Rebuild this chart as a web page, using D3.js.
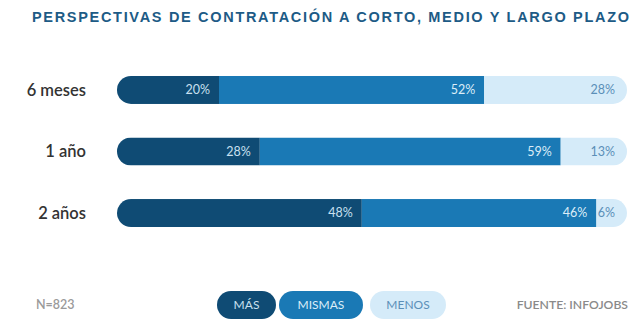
<!DOCTYPE html>
<html>
<head>
<meta charset="utf-8">
<script src="https://cdn.jsdelivr.net/npm/d3@7"></script>
<style>
	body { margin: 0; background: #ffffff; }
	svg { display: block; }
</style>
</head>
<body>
<div id="chart"></div>
<script>
// hiring outlook by horizon, shares of respondents
var periods = ["6 meses", "1 año", "2 años"];
var mas    = [20, 28, 48];
var mismas = [52, 59, 46];
var menos  = [28, 13, 6];
var seriesNames = ["MÁS", "MISMAS", "MENOS"];

var W = 638, H = 326;
var colors = ["#0f4b74", "#1a79b5", "#d5ebf9"];
var textColors = ["#c9e0f0", "#dcedf8", "#5b8fb8"];

var svg = d3.select("#chart").append("svg")
	.attr("width", W).attr("height", H);

svg.append("text")
	.attr("x", 32).attr("y", 22)
	.attr("textLength", 597).attr("lengthAdjust", "spacing")
	.style("font-family", "'Liberation Sans', Arial, sans-serif")
	.style("font-weight", "bold")
	.style("font-size", "14.5px")
	.style("fill", "#1d5b86")
	.text("PERSPECTIVAS DE CONTRATACIÓN A CORTO, MEDIO Y LARGO PLAZO");

var x = d3.scaleLinear().domain([0, 100]).range([117, 627]);
var y = d3.scaleBand().domain(periods).range([57.5, 245.5]).paddingInner(0.545).paddingOuter(0.3);

var rows = periods.map(function(p, i){
	var vals = [mas[i], mismas[i], menos[i]];
	var acc = 0;
	var segs = vals.map(function(v, k){
		var s = {k: k, x0: acc, x1: acc + v, v: v};
		acc += v;
		return s;
	});
	return {period: p, segs: segs};
});

var defs = svg.append("defs");
var bh = y.bandwidth();

rows.forEach(function(r, i){
	defs.append("clipPath").attr("id", "clip" + i)
		.append("rect")
		.attr("x", x(0)).attr("y", y(r.period))
		.attr("width", x(100) - x(0)).attr("height", bh)
		.attr("rx", bh / 2).attr("ry", bh / 2);
});

var g = svg.selectAll(".row").data(rows).enter().append("g").attr("class", "row");

g.append("text")
	.attr("x", 86)
	.attr("y", function(d){ return y(d.period) + bh / 2; })
	.attr("dy", "0.35em")
	.attr("text-anchor", "end")
	.style("font-family", "Lato, 'Open Sans', sans-serif")
	.style("font-weight", "600")
	.style("font-size", "16.5px")
	.style("fill", "#333333")
	.text(function(d){ return d.period; });

var bars = g.append("g").attr("clip-path", function(d, i){ return "url(#clip" + i + ")"; });

bars.selectAll("rect").data(function(d){
		return d.segs.map(function(s){ s.period = d.period; return s; });
	}).enter().append("rect")
	.attr("x", function(s){ return x(s.x0); })
	.attr("y", function(s){ return y(s.period); })
	.attr("width", function(s){ return x(s.x1) - x(s.x0); })
	.attr("height", bh)
	.attr("fill", function(s){ return colors[s.k]; });

g.selectAll(".val").data(function(d){
		return d.segs.map(function(s){ s.period = d.period; return s; });
	}).enter().append("text")
	.attr("class", "val")
	.attr("x", function(s){ return x(s.x1) - (s.k == 2 ? 12 : 9); })
	.attr("y", function(s){ return y(s.period) + bh / 2; })
	.attr("dy", "0.35em")
	.attr("text-anchor", "end")
	.style("font-family", "Lato, 'Open Sans', sans-serif")
	.style("font-size", "12.5px")
	.style("fill", function(s){ return textColors[s.k]; })
	.text(function(s){ return s.v + "%"; });

// footer: sample size, legend pills, source
var footY = 305;

svg.append("text")
	.attr("x", 36).attr("y", footY).attr("dy", "0.35em")
	.style("font-family", "Lato, 'Open Sans', sans-serif")
	.style("font-weight", "600")
	.style("font-size", "12.5px")
	.style("fill", "#9a9a9a")
	.text("N=823");

svg.append("text")
	.attr("x", 628).attr("y", footY).attr("dy", "0.35em")
	.attr("text-anchor", "end")
	.style("font-family", "Lato, 'Open Sans', sans-serif")
	.style("font-weight", "600")
	.style("font-size", "12.2px")
	.style("fill", "#8a8a8a")
	.text("FUENTE: INFOJOBS");

var pillX = [217, 279, 370];
var pillW = [59, 84, 76];
var legend = svg.selectAll(".pill").data(seriesNames).enter().append("g").attr("class", "pill");

legend.append("rect")
	.attr("x", function(d, i){ return pillX[i]; })
	.attr("y", footY - 14)
	.attr("width", function(d, i){ return pillW[i]; })
	.attr("height", 28)
	.attr("rx", 14).attr("ry", 14)
	.attr("fill", function(d, i){ return colors[i]; });

legend.append("text")
	.attr("x", function(d, i){ return pillX[i] + pillW[i] / 2; })
	.attr("y", footY).attr("dy", "0.35em")
	.attr("text-anchor", "middle")
	.style("font-family", "Lato, 'Open Sans', sans-serif")
	.style("font-size", "12px")
	.style("fill", function(d, i){ return textColors[i]; })
	.text(function(d){ return d; });
</script>
</body>
</html>
